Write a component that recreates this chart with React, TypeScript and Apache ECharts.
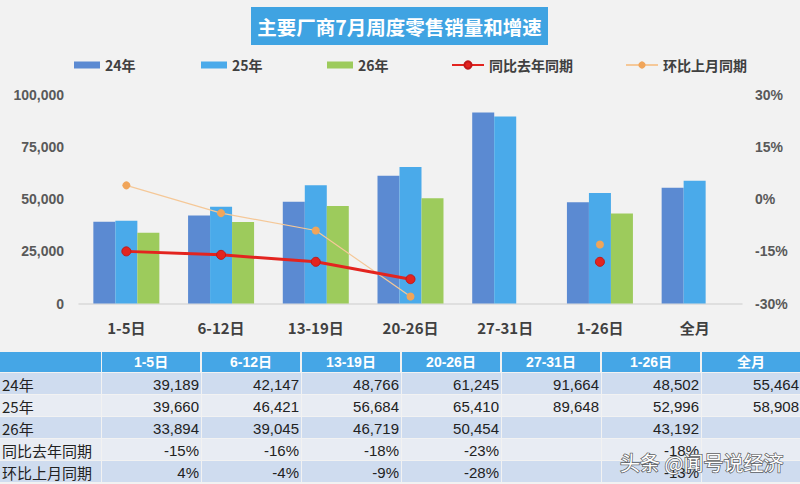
import React, { useEffect, useRef } from "react";
import * as echarts from "echarts";

const categories = ["1-5日", "6-12日", "13-19日", "20-26日", "27-31日", "1-26日", "全月"];
const sales24 = [39189, 42147, 48766, 61245, 91664, 48502, 55464];
const sales25 = [39660, 46421, 56684, 65410, 89648, 52996, 58908];
const sales26 = [33894, 39045, 46719, 50454, null, 43192, null];
const yoy = [-15, -16, -18, -23, null, -18, null];
const mom = [4, -4, -9, -28, null, -13, null];
const leftTicks = { min: 0, max: 100000, interval: 25000 };
const rightTicks = { min: -30, max: 30, interval: 15 };

const seriesNames = ["24年", "25年", "26年", "同比去年同期", "环比上月同期"];
const titleText = "主要厂商7月周度零售销量和增速";
const watermark = "头条 @闻号说经济";

const FONT = '"Liberation Sans", "Noto Sans CJK SC", sans-serif';
const CJK = '"Noto Sans CJK SC", "Liberation Sans", sans-serif';
const C24 = "#5b8ad2";
const C25 = "#4aaaea";
const C26 = "#9dcb5c";
const CRED = "#e3241f";
const CORG = "#f0a55a";

const fmtNum = (v: number | null) => (v == null ? "" : v.toLocaleString("en-US"));
const fmtPct = (v: number | null) => (v == null ? "" : `${v}%`);

function buildTable(): any[] {
  const els: any[] = [];
  const headerTop = 352;
  const headerH = 20;
  const rowTop = 373;
  const rowH = 22;
  const labelW = 101;
  const colX = (i: number) => 102 + 100 * i;
  const rows = [
    { label: seriesNames[0], vals: sales24.map(fmtNum) },
    { label: seriesNames[1], vals: sales25.map(fmtNum) },
    { label: seriesNames[2], vals: sales26.map(fmtNum) },
    { label: seriesNames[3], vals: yoy.map(fmtPct) },
    { label: seriesNames[4], vals: mom.map(fmtPct) },
  ];
  els.push({ type: "rect", shape: { x: 0, y: headerTop, width: labelW, height: headerH }, style: { fill: "#45a6e6" }, silent: true });
  categories.forEach((c, i) => {
    els.push({ type: "rect", shape: { x: colX(i), y: headerTop, width: 98, height: headerH }, style: { fill: "#45a6e6" }, silent: true });
    els.push({
      type: "text", x: colX(i) + 49, y: headerTop + headerH / 2,
      style: { text: c, fill: "#ffffff", font: `bold 14px ${FONT}`, align: "center", verticalAlign: "middle" }, silent: true,
    });
  });
  rows.forEach((r, ri) => {
    const y = rowTop + ri * rowH;
    const fill = ri % 2 === 0 ? "#cfdcef" : "#e8ecf3";
    els.push({ type: "rect", shape: { x: 0, y, width: labelW, height: rowH - 1 }, style: { fill }, silent: true });
    els.push({
      type: "text", x: 2, y: y + rowH / 2,
      style: { text: r.label, fill: "#222222", font: `15px ${CJK}`, align: "left", verticalAlign: "middle" }, silent: true,
    });
    r.vals.forEach((v, ci) => {
      els.push({ type: "rect", shape: { x: colX(ci), y, width: 99, height: rowH - 1 }, style: { fill }, silent: true });
      if (v !== "") {
        els.push({
          type: "text", x: colX(ci) + 97, y: y + rowH / 2,
          style: { text: v, fill: "#222222", font: `15px ${FONT}`, align: "right", verticalAlign: "middle" }, silent: true,
        });
      }
    });
  });
  return els;
}

export default function App() {
  const ref = useRef<HTMLDivElement>(null);
  useEffect(() => {
    document.body.style.margin = "0";
    if (!ref.current) return;
    const chart = echarts.init(ref.current, null, { renderer: "svg" });
    const legendText = { fontFamily: CJK, fontWeight: "bold" as const, fontSize: 14, color: "#404040" };
    const legendPos = [69, 196, 322, 446, 620];
    const option: any = {
      animation: false,
      backgroundColor: "#f2f2f2",
      textStyle: { fontFamily: FONT },
      legend: seriesNames.map((n, i) => ({
        data: [n],
        left: legendPos[i],
        top: 53,
        itemWidth: i < 3 ? 26 : 32,
        itemHeight: i < 3 ? 7 : 9,
        icon: i < 3 ? "rect" : undefined,
        textStyle: legendText,
        selectedMode: false,
      })),
      grid: { left: 79, right: 58, top: 95, bottom: 180.5, containLabel: false },
      xAxis: {
        type: "category",
        data: categories,
        axisTick: { show: false },
        axisLine: { lineStyle: { color: "#d9d9d9", width: 1.5 } },
        axisLabel: { color: "#404040", fontWeight: "bold", fontSize: 15, margin: 16, fontFamily: CJK },
      },
      yAxis: [
        {
          type: "value",
          min: leftTicks.min, max: leftTicks.max, interval: leftTicks.interval,
          splitLine: { show: false },
          axisLine: { show: false }, axisTick: { show: false },
          axisLabel: { color: "#595959", fontWeight: "bold", fontSize: 14, margin: 15, formatter: (v: number) => v.toLocaleString("en-US") },
        },
        {
          type: "value",
          min: rightTicks.min, max: rightTicks.max, interval: rightTicks.interval,
          splitLine: { show: false },
          axisLine: { show: false }, axisTick: { show: false },
          axisLabel: { color: "#595959", fontWeight: "bold", fontSize: 14, margin: 13, formatter: (v: number) => `${v}%` },
        },
      ],
      series: [
        { name: seriesNames[0], type: "bar", data: sales24, barWidth: 22, barGap: "0%", itemStyle: { color: C24 } },
        { name: seriesNames[1], type: "bar", data: sales25, barWidth: 22, barGap: "0%", itemStyle: { color: C25 } },
        { name: seriesNames[2], type: "bar", data: sales26, barWidth: 22, barGap: "0%", itemStyle: { color: C26 } },
        {
          name: seriesNames[3], type: "line", yAxisIndex: 1, data: yoy, z: 5,
          symbol: "circle", symbolSize: 9, showAllSymbol: true,
          lineStyle: { color: CRED, width: 3 },
          itemStyle: { color: CRED, borderColor: "#c0181a", borderWidth: 1 },
        },
        {
          name: seriesNames[4], type: "line", yAxisIndex: 1, data: mom, z: 4,
          symbol: "circle", symbolSize: 8, showAllSymbol: true,
          lineStyle: { color: "#f5c898", width: 1.2 },
          itemStyle: { color: CORG },
        },
      ],
      graphic: [
        { type: "rect", shape: { x: 251, y: 7, width: 297, height: 38 }, style: { fill: "#3fa3e2" }, silent: true },
        {
          type: "text", x: 399.5, y: 26,
          style: { text: titleText, fill: "#ffffff", font: `bold 19.5px ${CJK}`, align: "center", verticalAlign: "middle" }, silent: true,
        },
        ...buildTable(),
        {
          type: "text", x: 620, y: 462, z: 100,
          style: {
            text: watermark, fill: "#ffffff", font: `20px ${CJK}`, align: "left", verticalAlign: "middle",
            stroke: "rgba(70,70,70,0.85)", lineWidth: 1.5,
          },
          silent: true,
        },
      ],
    };
    chart.setOption(option);
    return () => chart.dispose();
  }, []);
  return <div ref={ref} style={{ width: 800, height: 484 }} />;
}
